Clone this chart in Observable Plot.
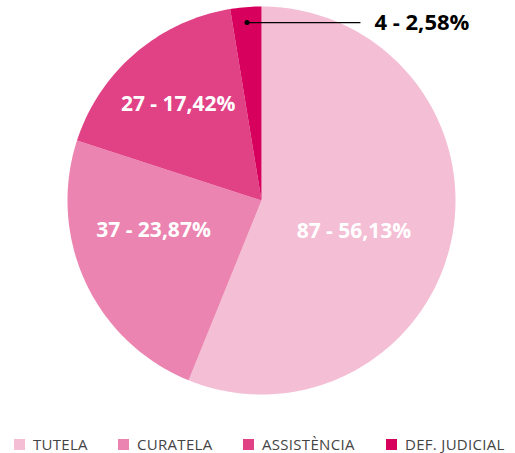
<!DOCTYPE html>
<html><head><meta charset="utf-8">
<script src="https://cdn.jsdelivr.net/npm/d3@7"></script>
<script src="https://cdn.jsdelivr.net/npm/@observablehq/plot@0.6"></script>
<style>
body{margin:0;background:#fff;font-family:"Open Sans",sans-serif;}
#legend{height:31px;font-size:15px;color:#444;letter-spacing:0.3px;}
.item{display:flex;align-items:center;position:absolute;top:12px;}
.sw{width:11px;height:11px;margin-right:8px;}
</style></head>
<body>
<div id="chart"></div>
<div id="legend" style="position:relative"></div>
<script>
const categories = ["TUTELA", "CURATELA", "ASSISTÈNCIA", "DEF. JUDICIAL"];
const values = [87, 37, 27, 4];
const colors = ["#f4bed5", "#eb84b0", "#e04285", "#d7005d"];

const W = 515, H = 422, R = 194, CX = 261, CY = 200;
const total = d3.sum(values);
const pie = d3.pie().sort(null).value(d => d.value)(categories.map((c, i) => ({cat: c, value: values[i]})));

const poly = [];
pie.forEach(p => {
  poly.push({cat: p.data.cat, x: 0, y: 0});
  const n = Math.max(2, Math.ceil((p.endAngle - p.startAngle) * 180 / Math.PI));
  for (let k = 0; k <= n; k++) {
    const a = p.startAngle + (p.endAngle - p.startAngle) * k / n;
    poly.push({cat: p.data.cat, x: Math.sin(a), y: Math.cos(a)});
  }
  poly.push({cat: p.data.cat, x: 0, y: 0});
});

// label nudges (pixels) to follow the reference's placement
const nudge = {"TUTELA": [-18, 9], "CURATELA": [-6, -18], "ASSISTÈNCIA": [-10, -11]};

const fmt = p => (p * 100).toFixed(2).replace(".", ",") + "%";
const inner = pie.filter(p => p.data.value / total > 0.05).map(p => {
  const a = (p.startAngle + p.endAngle) / 2;
  const [dx, dy] = nudge[p.data.cat] || [0, 0];
  return {x: Math.sin(a) * 0.58 + dx / R, y: Math.cos(a) * 0.58 - dy / R, text: p.data.value + " - " + fmt(p.data.value / total)};
});
const outer = pie.filter(p => p.data.value / total <= 0.05).map(p => {
  const a = (p.startAngle + p.endAngle) / 2;
  return {x: Math.sin(a) * 0.92, y: Math.cos(a) * 0.92, x2: 0.51, text: p.data.value + " - " + fmt(p.data.value / total)};
});

const chart = Plot.plot({
  width: W, height: H,
  margin: 0,
  x: {domain: [-CX / R, (W - CX) / R], axis: null},
  y: {domain: [-(H - CY) / R, CY / R], axis: null},
  color: {domain: categories, range: colors},
  style: {fontFamily: "Open Sans", background: "#fff"},
  marks: [
    Plot.line(poly, {x: "x", y: "y", z: "cat", fill: "cat", stroke: null, curve: "linear"}),
    Plot.text(inner, {x: "x", y: "y", text: "text", fill: "white", fontSize: 21, fontWeight: "bold"}),
    Plot.link(outer, {x1: "x", y1: "y", x2: "x2", y2: "y", stroke: "black", strokeWidth: 1.3}),
    Plot.dot(outer, {x: "x", y: "y", r: 2.5, fill: "black"}),
    Plot.text(outer, {x: "x2", y: "y", text: "text", dx: 14, textAnchor: "start", fill: "black", fontSize: 22, fontWeight: "bold"})
  ]
});
document.getElementById("chart").appendChild(chart);

const lefts = [14, 118, 243, 386];
const leg = document.getElementById("legend");
categories.forEach((c, i) => {
  const it = document.createElement("div");
  it.className = "item";
  it.style.left = lefts[i] + "px";
  it.innerHTML = `<div class="sw" style="background:${colors[i]}"></div><span>${c}</span>`;
  leg.appendChild(it);
});
</script>
</body></html>
